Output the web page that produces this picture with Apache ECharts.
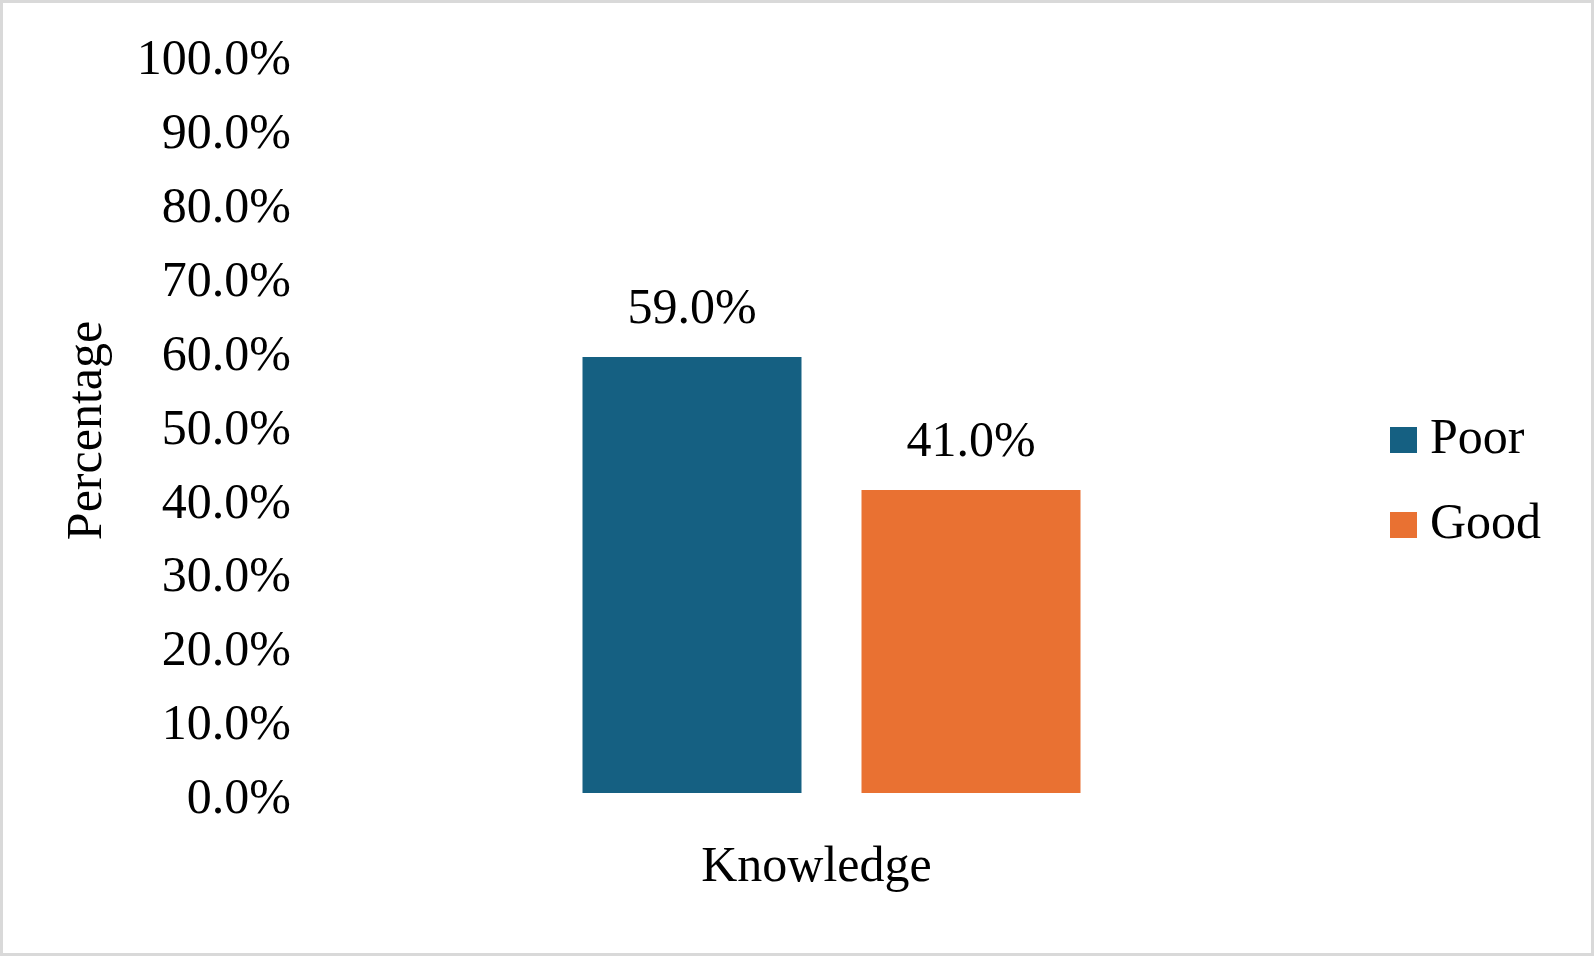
<!DOCTYPE html>
<html>
<head>
<meta charset="utf-8">
<script src="https://cdn.jsdelivr.net/npm/echarts@6/dist/echarts.min.js"></script>
<style>
html,body{margin:0;padding:0;background:#fff;}
#chart{position:absolute;left:0;top:0;width:1594px;height:956px;}
#frame{position:absolute;left:0;top:0;width:1594px;height:956px;box-sizing:border-box;border:3px solid #d9d9d9;pointer-events:none;}
</style>
</head>
<body>
<div id="chart"></div>
<div id="frame"></div>
<script>
const categories = ['Knowledge'];
const seriesNames = ['Poor', 'Good'];
const poorValues = [59.0];
const goodValues = [41.0];
const yTicks = [0, 10, 20, 30, 40, 50, 60, 70, 80, 90, 100];
const colors = ['#156082', '#E97132'];

const FONT = '"Liberation Serif", "Times New Roman", serif';
const chart = echarts.init(document.getElementById('chart'));
const labelStyle = {
  show: true, position: 'top', distance: 22,
  fontFamily: FONT, fontSize: 50, color: '#000',
  formatter: p => p.value.toFixed(1) + '%'
};
chart.setOption({
  animation: false,
  textStyle: { fontFamily: FONT },
  grid: { left: 300, right: 231, top: 54, bottom: 163, containLabel: false },
  legend: {
    orient: 'vertical', left: 1385, top: 410,
    itemWidth: 27, itemHeight: 26, itemGap: 35, icon: 'rect',
    textStyle: { fontFamily: FONT, fontSize: 50, color: '#000', padding: [0, 0, 0, 8] },
    data: seriesNames
  },
  xAxis: {
    type: 'category', data: categories,
    axisLine: { show: false }, axisTick: { show: false },
    axisLabel: { fontFamily: FONT, fontSize: 50, color: '#000', margin: 50, padding: [0, 30, 0, 0] }
  },
  yAxis: {
    type: 'value', min: yTicks[0], max: yTicks[yTicks.length - 1], interval: yTicks[1] - yTicks[0],
    name: 'Percentage', nameLocation: 'middle', nameGap: 187, nameRotate: 90,
    nameTextStyle: { fontFamily: FONT, fontSize: 50, color: '#000', padding: [0, 14, 0, 0] },
    axisLine: { show: false }, axisTick: { show: false }, splitLine: { show: false },
    axisLabel: { fontFamily: FONT, fontSize: 50, color: '#000', margin: 9,
      verticalAlign: 'top', lineHeight: 14,
      formatter: v => v.toFixed(1) + '%' }
  },
  series: [
    { name: seriesNames[0], type: 'bar', data: poorValues, barWidth: 219, barGap: '27.4%',
      itemStyle: { color: colors[0] }, label: labelStyle },
    { name: seriesNames[1], type: 'bar', data: goodValues, barWidth: 219,
      itemStyle: { color: colors[1] }, label: labelStyle }
  ]
});
</script>
</body>
</html>
